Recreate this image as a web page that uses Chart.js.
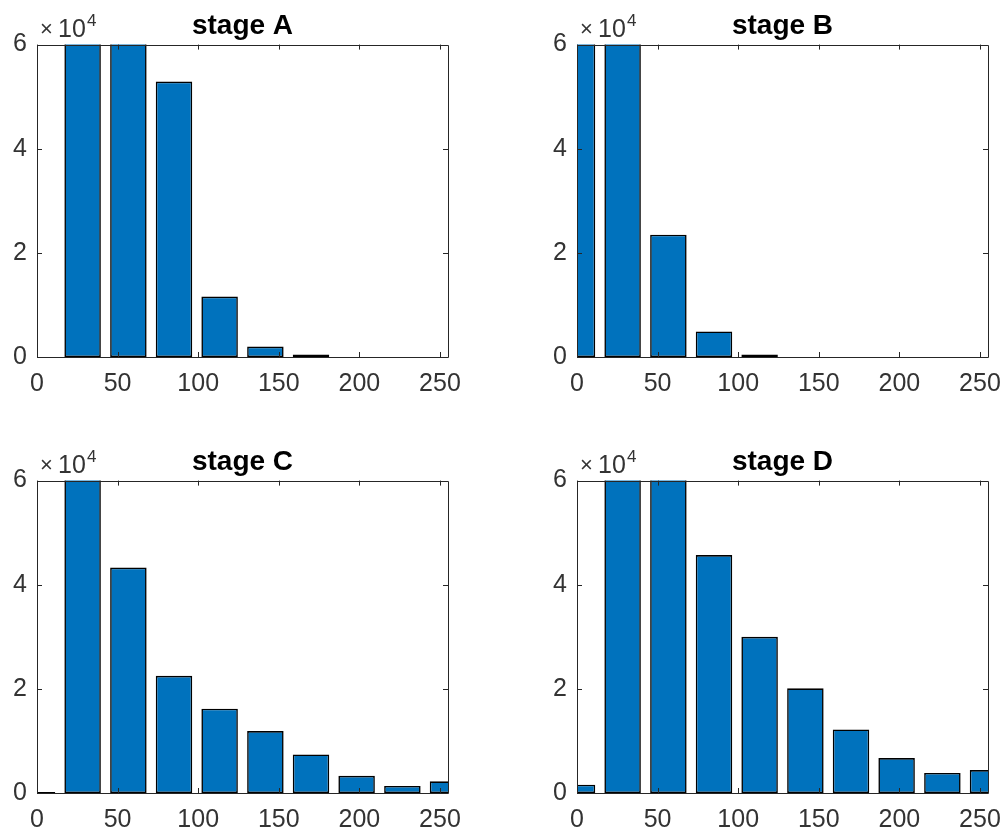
<!DOCTYPE html>
<html>
<head>
<meta charset="utf-8">
<script src="https://cdn.jsdelivr.net/npm/chart.js@4.4.1/dist/chart.umd.min.js"></script>
<style>
  body { margin: 0; background: #fff; }
  .panel { position: absolute; }
</style>
</head>
<body>
<canvas id="chartA" class="panel" width="500" height="398" style="left:0px;top:0px"></canvas>
<canvas id="chartB" class="panel" width="500" height="398" style="left:540px;top:0px"></canvas>
<canvas id="chartC" class="panel" width="500" height="398" style="left:0px;top:436px"></canvas>
<canvas id="chartD" class="panel" width="500" height="398" style="left:540px;top:436px"></canvas>
<script>
// bin centres of the histograms
const binCenters = [0, 28.3, 56.7, 85, 113.3, 141.7, 170, 198.3, 226.7, 255];

// counts per bin (bars above 6e4 are cut off by the axis in the original)
const stageA = [0, 98000, 76000, 52900, 11600, 2000, 500, 0, 0, 0];
const stageB = [82000, 95000, 23500, 4900, 500, 0, 0, 0, 0, 0];
const stageC = [200, 91000, 43300, 22500, 16200, 11900, 7400, 3300, 1350, 2250];
const stageD = [1600, 88000, 72000, 45700, 30000, 20100, 12200, 6700, 3850, 4400];

const titles = ['stage A', 'stage B', 'stage C', 'stage D'];
const xTicks = [0, 50, 100, 150, 200, 250];
const yTicks = [0, 20000, 40000, 60000];

const axisColor = '#262626';
const textColor = '#333333';
const barColor = '#0072BD';
const fontFamily = '"Liberation Sans", Arial, sans-serif';

// box around the axes, ticks pointing inward, and the x10^4 label
const matlabAxes = {
    id: 'matlabAxes',
    afterDatasetsDraw(chart) {
        const ctx = chart.ctx;
        const area = chart.chartArea;
        const xs = chart.scales.x;
        const ys = chart.scales.y;
        const tick = 5;
        ctx.save();
        ctx.strokeStyle = axisColor;
        ctx.lineWidth = 1;
        ctx.beginPath();
        ctx.rect(Math.round(area.left) + 0.5, Math.round(area.top) + 0.5,
                 Math.round(area.right - area.left), Math.round(area.bottom - area.top));
        xTicks.forEach(v => {
            const px = Math.round(xs.getPixelForValue(v)) + 0.5;
            ctx.moveTo(px, area.bottom);
            ctx.lineTo(px, area.bottom - tick);
            ctx.moveTo(px, area.top);
            ctx.lineTo(px, area.top + tick);
        });
        yTicks.forEach(v => {
            const py = Math.round(ys.getPixelForValue(v)) + 0.5;
            ctx.moveTo(area.left, py);
            ctx.lineTo(area.left + tick, py);
            ctx.moveTo(area.right, py);
            ctx.lineTo(area.right - tick, py);
        });
        ctx.stroke();

        // exponent label
        ctx.fillStyle = textColor;
        ctx.textBaseline = 'alphabetic';
        ctx.textAlign = 'left';
        const base = area.top - 8;
        ctx.font = '22px ' + fontFamily;
        ctx.fillText('\u00d7', area.left + 3, base - 1);
        ctx.font = '25px ' + fontFamily;
        ctx.fillText('10', area.left + 21, base);
        ctx.font = '17px ' + fontFamily;
        ctx.fillText('4', area.left + 50, base - 11);
        ctx.restore();
    }
};

function makeChart(id, values, title) {
    const ctx = document.getElementById(id).getContext('2d');
    return new Chart(ctx, {
        type: 'bar',
        data: {
            datasets: [{
                data: binCenters.map((c, i) => ({ x: c, y: values[i] })),
                backgroundColor: barColor,
                borderColor: '#000',
                borderWidth: 1.6,
                borderSkipped: false,
                barPercentage: 0.8,
                categoryPercentage: 1,
                clip: 0
            }]
        },
        options: {
            responsive: false,
            animation: false,
            devicePixelRatio: 1,
            layout: {
                padding: { left: 0, right: 52, top: 0, bottom: 0 }
            },
            plugins: {
                legend: { display: false },
                tooltip: { enabled: false },
                title: {
                    display: true,
                    text: title,
                    fullSize: false,
                    color: '#000',
                    font: { family: fontFamily, size: 28, weight: 'bold' },
                    padding: { top: 9, bottom: 2 }
                }
            },
            scales: {
                x: {
                    type: 'linear',
                    offset: false,
                    min: 0,
                    max: 255,
                    grid: { display: false, drawTicks: false },
                    border: { display: false },
                    afterFit: scale => { scale.height = 41; },
                    ticks: {
                        stepSize: 50,
                        includeBounds: false,
                        maxRotation: 0,
                        padding: 12,
                        color: textColor,
                        font: { family: fontFamily, size: 25 }
                    }
                },
                y: {
                    min: 0,
                    max: 60000,
                    grid: { display: false, drawTicks: false },
                    border: { display: false },
                    afterFit: scale => { scale.width = 37; },
                    ticks: {
                        stepSize: 20000,
                        padding: 10,
                        color: textColor,
                        font: { family: fontFamily, size: 25 },
                        callback: v => v / 10000
                    }
                }
            }
        },
        plugins: [matlabAxes]
    });
}

makeChart('chartA', stageA, titles[0]);
makeChart('chartB', stageB, titles[1]);
makeChart('chartC', stageC, titles[2]);
makeChart('chartD', stageD, titles[3]);
</script>
</body>
</html>
